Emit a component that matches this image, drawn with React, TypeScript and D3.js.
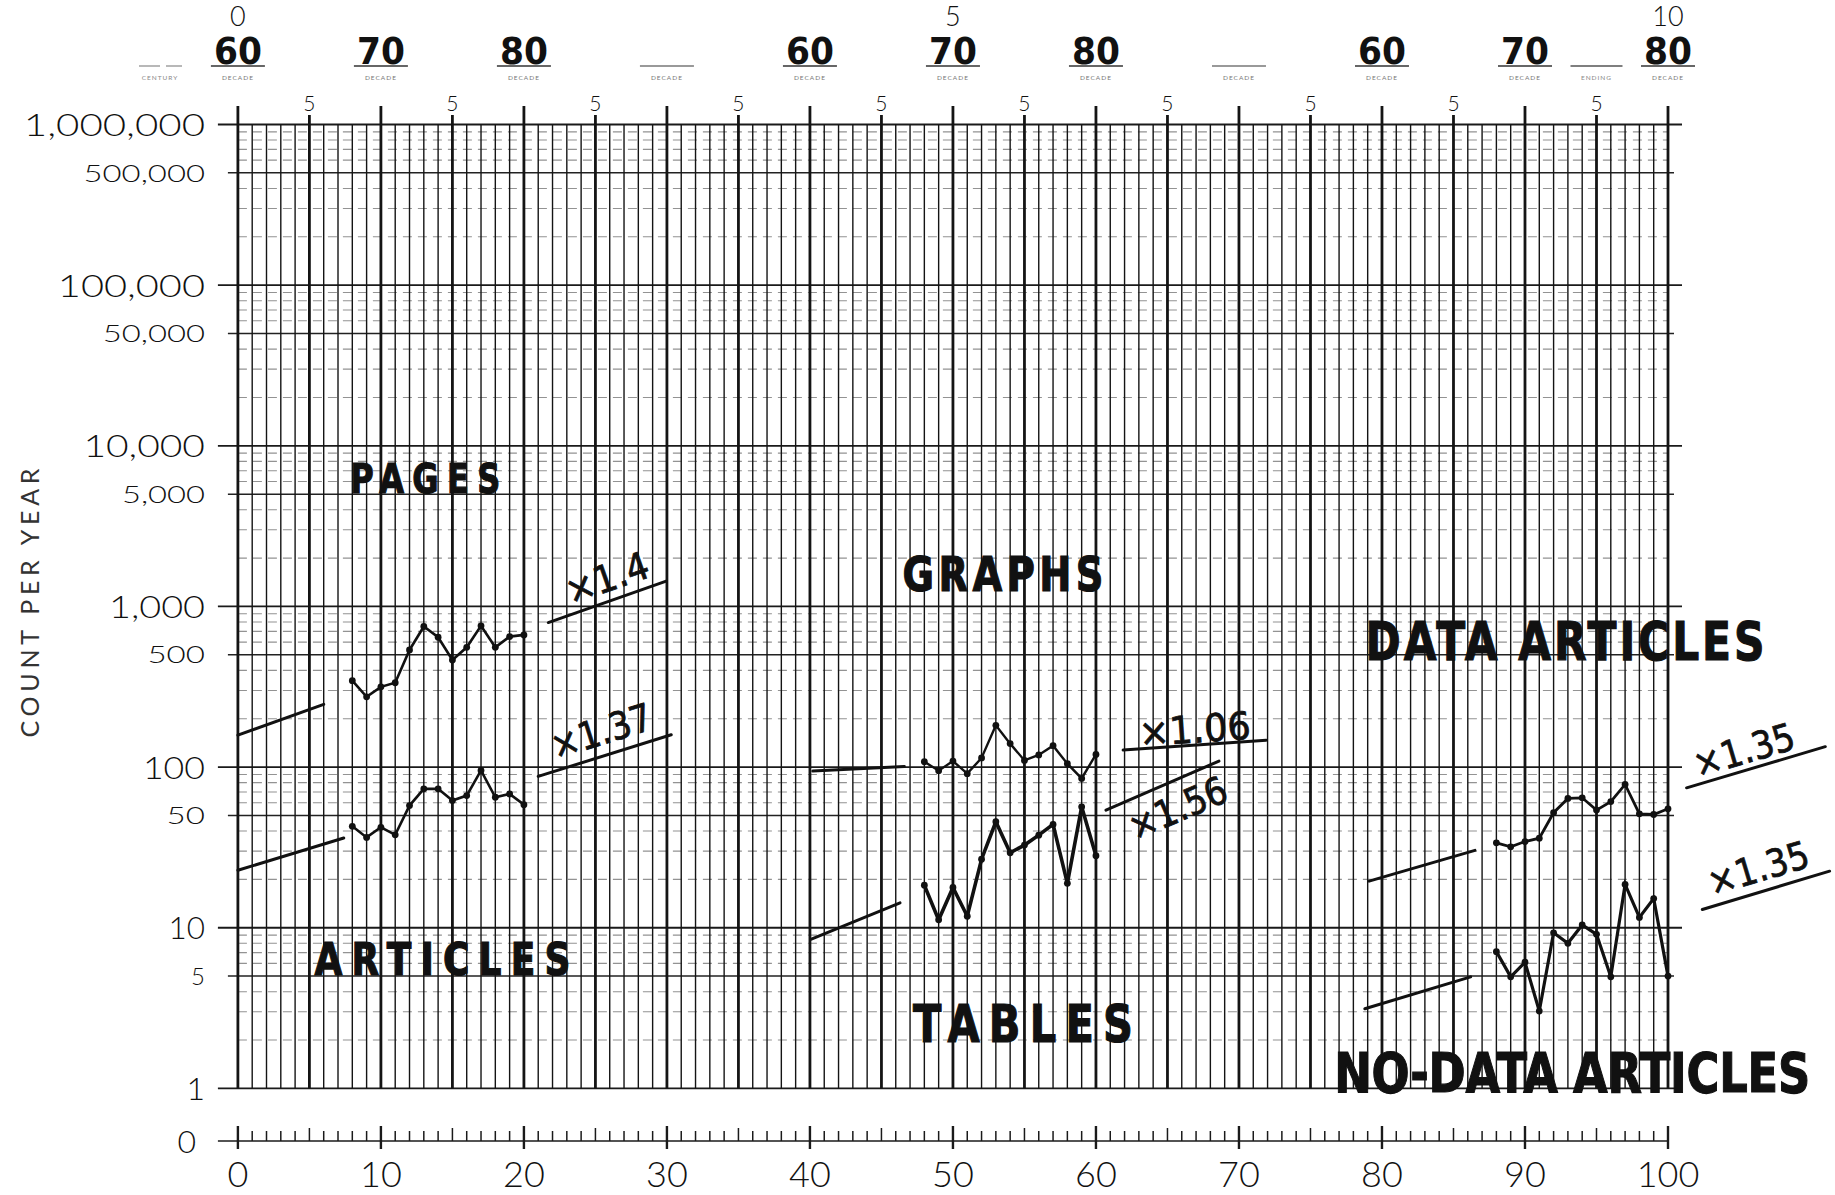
import React from 'react';
import * as d3 from 'd3';

const WIDTH = 1835;
const HEIGHT = 1195;

// Year index along the 0–100 scale for each plotted run
const pagesYears = [8, 9, 10, 11, 12, 13, 14, 15, 16, 17, 18, 19, 20];
const graphsYears = [48, 49, 50, 51, 52, 53, 54, 55, 56, 57, 58, 59, 60];
const dataYears = [88, 89, 90, 91, 92, 93, 94, 95, 96, 97, 98, 99, 100];

// Counts per year
const pagesCounts = [345, 274, 316, 335, 536, 750, 643, 464, 557, 757, 557, 649, 665];
const articleCounts = [42.8, 36.5, 42.2, 37.9, 57.6, 73.2, 73.2, 61.9, 66.5, 95.3, 64.9, 68.1, 58.4];
const graphCounts = [108, 95, 109, 91, 114, 182, 140, 110, 119, 136, 105, 85, 120];
const tableCounts = [18.4, 11.2, 17.8, 11.8, 26.7, 45.7, 29.3, 32.7, 37.7, 44, 18.9, 56.6, 28.1];
const dataArticleCounts = [33.8, 31.9, 34.4, 36.1, 52, 63.8, 64.4, 54, 61, 78, 51.2, 50.7, 55];
const noDataArticleCounts = [7.1, 4.95, 6.1, 3.03, 9.3, 8.0, 10.4, 9.1, 4.95, 18.6, 11.6, 15.2, 5.0];

// Growth-rate guide segments: [year, count] at each end
const pagesEarlyTrend: [number, number][] = [[0, 158], [6, 246]];
const pagesLateTrend: [number, number][] = [[21.7, 794], [29.9, 1432]];
const articlesEarlyTrend: [number, number][] = [[0, 22.8], [7.4, 36.2]];
const articlesLateTrend: [number, number][] = [[21.0, 87.5], [30.3, 159]];
const graphsEarlyTrend: [number, number][] = [[40.2, 94.4], [46.6, 101]];
const graphsLateTrend: [number, number][] = [[61.9, 127.6], [71.9, 147]];
const tablesEarlyTrend: [number, number][] = [[40.1, 8.5], [46.3, 14.3]];
const tablesLateTrend: [number, number][] = [[60.7, 54], [68.6, 109]];
const dataEarlyTrend: [number, number][] = [[79.1, 19.5], [86.5, 30.3]];
const dataLateTrend: [number, number][] = [[101.3, 74.3], [111, 134]];
const noDataEarlyTrend: [number, number][] = [[78.8, 3.13], [86.2, 4.95]];
const noDataLateTrend: [number, number][] = [[102.4, 13.0], [111.3, 22.5]];

const growthFactors = ['×1.4', '×1.37', '×1.06', '×1.56', '×1.35', '×1.35'];
const seriesNames = ['PAGES', 'ARTICLES', 'GRAPHS', 'TABLES', 'DATA ARTICLES', 'NO-DATA ARTICLES'];

// Axis labels
const yTickValues = [1e6, 5e5, 1e5, 5e4, 1e4, 5e3, 1e3, 500, 100, 50, 10, 5, 1];
const yTickLabels = ['1,000,000', '500,000', '100,000', '50,000', '10,000', '5,000', '1,000', '500', '100', '50', '10', '5', '1'];
const xTickValues = [0, 10, 20, 30, 40, 50, 60, 70, 80, 90, 100];
const decadeYears = [0, 10, 20, 30, 40, 50, 60, 70, 80, 90, 100];
const decadeLabels = ['60', '70', '80', '', '60', '70', '80', '', '60', '70', '80'];
const cycleYears = [0, 50, 100];
const cycleLabels = ['0', '5', '10'];

const THIN = "Lato, 'DejaVu Sans', sans-serif";
const HAND = "'DejaVu Sans', sans-serif";

// width estimate for the wide, round-figured numerals of the printed scale
function numeralWidth(s: string, fs: number) {
  let w = 0;
  for (const c of s) {
    if (c === '1') w += 0.34 * fs;
    else if (c === ',') w += 0.26 * fs;
    else w += 0.8 * fs;
  }
  return w;
}

export default function App() {
  const x = d3.scaleLinear().domain([0, 100]).range([237.9, 1668]);
  const y = d3.scaleLog().domain([1, 1e6]).range([1088.4, 124.5]);
  const zeroRowY = 1141;
  const line = d3.line<[number, number]>().x(d => x(d[0])).y(d => y(d[1]));

  const gridTop = y(1e6);
  const gridBottom = y(1);

  const hValues: number[] = [];
  for (let k = 0; k < 6; k++) for (let m = 1; m <= 9; m++) hValues.push(m * Math.pow(10, k));
  hValues.push(1e6);

  const series = [
    { xs: pagesYears, ys: pagesCounts, w: 2.6 },
    { xs: pagesYears, ys: articleCounts, w: 2.6 },
    { xs: graphsYears, ys: graphCounts, w: 2.4 },
    { xs: graphsYears, ys: tableCounts, w: 3.6 },
    { xs: dataYears, ys: dataArticleCounts, w: 2.8 },
    { xs: dataYears, ys: noDataArticleCounts, w: 3.2 },
  ];

  const trends = [
    pagesEarlyTrend, pagesLateTrend, articlesEarlyTrend, articlesLateTrend,
    graphsEarlyTrend, graphsLateTrend, tablesEarlyTrend, tablesLateTrend,
    dataEarlyTrend, dataLateTrend, noDataEarlyTrend, noDataLateTrend,
  ];
  const lateTrends = [pagesLateTrend, articlesLateTrend, graphsLateTrend, tablesLateTrend, dataLateTrend, noDataLateTrend];

  // label placement in chart coordinates (year, count)
  const factorPlacement = [
    { at: [25.8, 1510], len: 86 },
    { at: [25.4, 168], len: 104 },
    { at: [66.9, 173], len: 112 },
    { at: [65.7, 55.7], len: 104 },
    { at: [105.3, 128], len: 104 },
    { at: [106.3, 23.6], len: 104 },
  ];
  const namePlacement = [
    { at: [13.1, 5100], len: 150, fs: 40 },
    { at: [14.3, 5.09], len: 256, fs: 45 },
    { at: [53.5, 1253], len: 201, fs: 48 },
    { at: [54.9, 1.945], len: 220, fs: 52 },
    { at: [92.8, 466], len: 399, fs: 53 },
    { at: [93.3, 0.953], len: 476, fs: 56 },
  ];
  const NAME_SQUEEZE = 0.8;

  const angleOf = (seg: [number, number][]) => {
    const dx = x(seg[1][0]) - x(seg[0][0]);
    const dy = y(seg[1][1]) - y(seg[0][1]);
    return (Math.atan2(dy, dx) * 180) / Math.PI;
  };

  return (
    <svg width={WIDTH} height={HEIGHT} style={{ position: 'absolute', left: 0, top: 0, background: '#fff' }}>
      <rect x={0} y={0} width={WIDTH} height={HEIGHT} fill="#fff" />

      {/* horizontal rulings */}
      {hValues.map((v, i) => {
        const m = Math.round(v / Math.pow(10, Math.floor(Math.log10(v) + 1e-9)));
        const yy = y(v);
        if (m === 1) return <line key={'h' + i} x1={x(0) - 20} x2={x(100) + 14} y1={yy} y2={yy} stroke="#1a1a1a" strokeWidth={1.8} />;
        if (m === 5) return <line key={'h' + i} x1={x(0) - 10} x2={x(100) + 6} y1={yy} y2={yy} stroke="#222" strokeWidth={1.5} />;
        return <line key={'h' + i} x1={x(0)} x2={x(100)} y1={yy} y2={yy} stroke="#666" strokeWidth={1.1} strokeDasharray="9 6" opacity={0.7} />;
      })}

      {/* vertical rulings */}
      {d3.range(0, 101).map(u => {
        const top = u % 10 === 0 ? 106 : u % 5 === 0 ? 115 : gridTop;
        return <line key={'v' + u} x1={x(u)} x2={x(u)} y1={top} y2={gridBottom} stroke="#141414" strokeWidth={u % 5 === 0 ? 2.8 : 1.4} />;
      })}

      {/* top scale: half-decade marks, decade headings, cycle numbers */}
      {d3.range(5, 100, 10).map(u => (
        <text key={'f' + u} x={x(u)} y={111} textAnchor="middle" fontFamily={THIN} fontWeight={300} fontSize={21} fill="#111">5</text>
      ))}
      {decadeYears.map((u, i) => (
        <g key={'d' + i}>
          {decadeLabels[i] !== '' && (
            <text x={x(u)} y={64} textAnchor="middle" fontFamily={HAND} fontWeight="bold" fontSize={37}
              textLength={48} lengthAdjust="spacingAndGlyphs" fill="#111">{decadeLabels[i]}</text>
          )}
          <line x1={x(u) - 27} x2={x(u) + 27} y1={66} y2={66} stroke={decadeLabels[i] === '' ? '#777' : '#333'} strokeWidth={1.3} />
          <text x={x(u)} y={80} textAnchor="middle" fontFamily={THIN} fontSize={6.5} fill="#777" letterSpacing={1}>DECADE</text>
        </g>
      ))}
      <line x1={139} x2={160} y1={66} y2={66} stroke="#888" strokeWidth={1.2} />
      <line x1={166} x2={182} y1={66} y2={66} stroke="#888" strokeWidth={1.2} />
      <text x={160} y={80} textAnchor="middle" fontFamily={THIN} fontSize={6.5} fill="#888" letterSpacing={1}>CENTURY</text>
      <line x1={x(95) - 26} x2={x(95) + 26} y1={66} y2={66} stroke="#555" strokeWidth={1.3} />
      <text x={x(95)} y={80} textAnchor="middle" fontFamily={THIN} fontSize={6.5} fill="#888" letterSpacing={1}>ENDING</text>
      {cycleYears.map((u, i) => (
        <text key={'c' + i} x={x(u)} y={26} textAnchor="middle" fontFamily={THIN} fontWeight={300} fontSize={27} fill="#111">{cycleLabels[i]}</text>
      ))}

      {/* count labels */}
      {yTickValues.map((v, i) => {
        const major = Math.abs(Math.log10(v) - Math.round(Math.log10(v))) < 1e-9;
        const fs = major ? 32 : 24;
        const s = yTickLabels[i];
        const props: any = s.length > 1 ? { textLength: numeralWidth(s, fs), lengthAdjust: 'spacingAndGlyphs' } : {};
        return (
          <text key={'yl' + i} x={205} y={y(v)} dy="0.36em" textAnchor="end" fontFamily={THIN} fontWeight={300}
            fontSize={fs} fill="#111" {...props}>{s}</text>
        );
      })}
      <text x={196} y={zeroRowY} dy="0.36em" textAnchor="end" fontFamily={THIN} fontWeight={300} fontSize={32} fill="#111">0</text>

      <text transform={`translate(30,603) rotate(-90)`} textAnchor="middle" dy="0.36em" fontFamily={THIN}
        fontSize={25} fill="#333" textLength={269} lengthAdjust="spacing">COUNT PER YEAR</text>

      {/* zero row */}
      <line x1={x(0) - 20} x2={x(100)} y1={zeroRowY} y2={zeroRowY} stroke="#1a1a1a" strokeWidth={1.6} />
      {d3.range(0, 101).map(u => {
        const t = u % 10 === 0 ? [-15, 8] : u % 5 === 0 ? [-13, 0] : [-10, 0];
        return <line key={'zt' + u} x1={x(u)} x2={x(u)} y1={zeroRowY + t[0]} y2={zeroRowY + t[1]} stroke="#1a1a1a" strokeWidth={u % 10 === 0 ? 2.4 : 1.5} />;
      })}
      {xTickValues.map(u => (
        <text key={'xl' + u} x={x(u)} y={1174} dy="0.36em" textAnchor="middle" fontFamily={THIN} fontWeight={300}
          fontSize={36} fill="#111">{u}</text>
      ))}

      {/* guide segments */}
      {trends.map((seg, i) => (
        <path key={'t' + i} d={line(seg) || ''} fill="none" stroke="#111" strokeWidth={3} strokeLinecap="round" />
      ))}

      {/* series */}
      {series.map((s, i) => {
        const pts: [number, number][] = s.xs.map((xx, j) => [xx, s.ys[j]]);
        return (
          <g key={'s' + i}>
            <path d={line(pts) || ''} fill="none" stroke="#111" strokeWidth={s.w} strokeLinejoin="miter" />
            {pts.map((p, j) => <circle key={j} cx={x(p[0])} cy={y(p[1])} r={3.4} fill="#111" />)}
          </g>
        );
      })}

      {/* growth factors */}
      {growthFactors.map((f, i) => {
        const p = factorPlacement[i];
        const a = angleOf(lateTrends[i]);
        return (
          <text key={'gf' + i} transform={`translate(${x(p.at[0])},${y(p.at[1])}) rotate(${a})`} textAnchor="middle"
            dy="0.36em" fontFamily={HAND} fontSize={38} fill="#111" stroke="#111" strokeWidth={0.8}
            textLength={p.len} lengthAdjust="spacingAndGlyphs">{f}</text>
        );
      })}

      {/* series names: hand lettering with open spacing */}
      {seriesNames.map((n, i) => {
        const p = namePlacement[i];
        return (
          <text key={'n' + i} transform={`translate(${x(p.at[0])},${y(p.at[1])}) scale(${NAME_SQUEEZE},1)`}
            textAnchor="middle" fontFamily={HAND} fontWeight="bold" fontSize={p.fs} fill="#111"
            stroke="#111" strokeWidth={1.2}
            textLength={p.len / NAME_SQUEEZE} lengthAdjust="spacing">{n}</text>
        );
      })}
    </svg>
  );
}
